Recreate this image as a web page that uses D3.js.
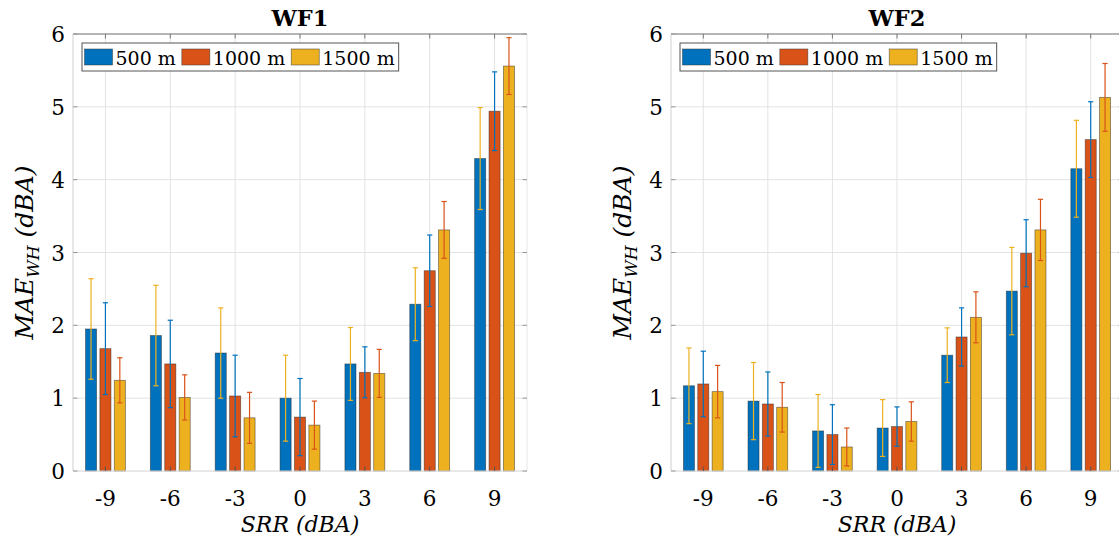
<!DOCTYPE html>
<html>
<head>
<meta charset="utf-8">
<script src="https://cdn.jsdelivr.net/npm/d3@7"></script>
<style>
  html, body { margin: 0; padding: 0; background: #fff; }
  svg { display: block; }
  text { font-family: "DejaVu Serif", serif; fill: #000; }
</style>
</head>
<body>
<svg id="chart" width="1119" height="539"></svg>
<script>
// ---------- data ----------
const categories = ["-9", "-6", "-3", "0", "3", "6", "9"];
const seriesNames = ["500 m", "1000 m", "1500 m"];
const yTicks = [0, 1, 2, 3, 4, 5, 6];

const wf1_500  = [1.95, 1.86, 1.62, 1.00, 1.47, 2.29, 4.29];
const wf1_1000 = [1.68, 1.47, 1.03, 0.74, 1.355, 2.75, 4.94];
const wf1_1500 = [1.245, 1.01, 0.73, 0.63, 1.34, 3.31, 5.56];
const wf1_500_err  = [0.69, 0.69, 0.62, 0.59, 0.50, 0.50, 0.70];
const wf1_1000_err = [0.63, 0.60, 0.56, 0.53, 0.35, 0.49, 0.54];
const wf1_1500_err = [0.31, 0.31, 0.35, 0.33, 0.33, 0.39, 0.39];

const wf2_500  = [1.17, 0.96, 0.55, 0.59, 1.59, 2.47, 4.15];
const wf2_1000 = [1.195, 0.92, 0.50, 0.61, 1.84, 2.99, 4.55];
const wf2_1500 = [1.09, 0.875, 0.33, 0.68, 2.11, 3.31, 5.13];
const wf2_500_err  = [0.52, 0.53, 0.50, 0.39, 0.375, 0.60, 0.665];
const wf2_1000_err = [0.45, 0.44, 0.41, 0.27, 0.40, 0.46, 0.52];
const wf2_1500_err = [0.36, 0.34, 0.26, 0.27, 0.35, 0.42, 0.465];

// ---------- styles ----------
const barColors = ["#0072BD", "#D95319", "#EDB120"];
const errColors = ["#EDB120", "#0072BD", "#D95319"];

const svg = d3.select("#chart");

function drawPanel(opts) {
  const { left, right, top, bottom, title, values, errors } = opts;
  const g = svg.append("g");

  const x0 = d3.scaleBand().domain(categories).range([left, right])
    .paddingInner(0.385).paddingOuter(0.1925);
  const x1 = d3.scaleBand().domain(seriesNames).range([0, x0.bandwidth()])
    .paddingInner(0.23).paddingOuter(0);
  const y = d3.scaleLinear().domain([0, 6]).range([bottom, top]);
  const cx = c => x0(c) + x0.bandwidth() / 2;

  const clipId = "clip" + Math.round(left);
  svg.append("clipPath").attr("id", clipId)
    .append("rect").attr("x", left).attr("y", top - 1).attr("width", right - left).attr("height", bottom - top + 2);

  // grid
  const grid = g.append("g");
  grid.selectAll("line.gx").data(categories).enter().append("line")
    .attr("x1", cx).attr("x2", cx).attr("y1", top).attr("y2", bottom)
    .attr("stroke", "#e3e3e3").attr("stroke-width", 1);
  grid.selectAll("line.gy").data(yTicks).enter().append("line")
    .attr("x1", left).attr("x2", right).attr("y1", d => y(d)).attr("y2", d => y(d))
    .attr("stroke", "#e3e3e3").attr("stroke-width", 1);

  // bars
  const bars = g.append("g").attr("clip-path", `url(#${clipId})`);
  seriesNames.forEach((s, si) => {
    bars.selectAll(null).data(categories).enter().append("rect")
      .attr("x", c => x0(c) + x1(s))
      .attr("width", x1.bandwidth())
      .attr("y", (c, i) => y(values[si][i]))
      .attr("height", (c, i) => y(0) - y(values[si][i]))
      .attr("fill", barColors[si])
      .attr("stroke", "#222").attr("stroke-opacity", 0.55).attr("stroke-width", 0.8);
  });

  // error bars
  const errG = g.append("g").attr("clip-path", `url(#${clipId})`);
  const capHalf = 2.6;
  seriesNames.forEach((s, si) => {
    const col = errColors[si];
    categories.forEach((c, i) => {
      const xc = x0(c) + x1(s) + x1.bandwidth() / 2;
      const v = values[si][i], e = errors[si][i];
      const yt = y(v + e), yb = y(v - e);
      errG.append("line").attr("x1", xc).attr("x2", xc).attr("y1", yt).attr("y2", yb)
        .attr("stroke", col).attr("stroke-width", 1.2);
      [yt, yb].forEach(yy => errG.append("line")
        .attr("x1", xc - capHalf).attr("x2", xc + capHalf).attr("y1", yy).attr("y2", yy)
        .attr("stroke", col).attr("stroke-width", 1.2));
    });
  });

  // axis box
  g.append("line").attr("x1", left).attr("x2", right).attr("y1", top).attr("y2", top)
    .attr("stroke", "#7a7a7a").attr("stroke-width", 1.2);
  g.append("line").attr("x1", left).attr("x2", left).attr("y1", top).attr("y2", bottom)
    .attr("stroke", "#d8d8d8").attr("stroke-width", 1.2);
  g.append("line").attr("x1", right).attr("x2", right).attr("y1", top).attr("y2", bottom)
    .attr("stroke", "#e6e6e6").attr("stroke-width", 1);
  g.append("line").attr("x1", left).attr("x2", right).attr("y1", bottom).attr("y2", bottom)
    .attr("stroke", "#e0e0e0").attr("stroke-width", 1);

  // ticks
  const tk = 4.5;
  categories.forEach(c => {
    g.append("line").attr("x1", cx(c)).attr("x2", cx(c)).attr("y1", top).attr("y2", top + tk)
      .attr("stroke", "#777").attr("stroke-width", 1);
    g.append("line").attr("x1", cx(c)).attr("x2", cx(c)).attr("y1", bottom).attr("y2", bottom - tk)
      .attr("stroke", "#555").attr("stroke-width", 1);
  });
  yTicks.forEach(t => {
    g.append("line").attr("x1", left).attr("x2", left + tk).attr("y1", y(t)).attr("y2", y(t))
      .attr("stroke", "#999").attr("stroke-width", 1);
    g.append("line").attr("x1", right).attr("x2", right - tk).attr("y1", y(t)).attr("y2", y(t))
      .attr("stroke", "#999").attr("stroke-width", 1);
  });

  // tick labels
  g.selectAll("text.xt").data(categories).enter().append("text")
    .attr("x", cx).attr("y", bottom + 35)
    .attr("text-anchor", "middle").attr("font-size", 21.5)
    .text(d => d);
  g.selectAll("text.yt").data(yTicks).enter().append("text")
    .attr("x", left - 8).attr("y", d => y(d) + 8)
    .attr("text-anchor", "end").attr("font-size", 21.5)
    .text(d => d);

  // title
  g.append("text").attr("x", (left + right) / 2).attr("y", 26)
    .attr("text-anchor", "middle").attr("font-size", 22.5).attr("font-weight", "bold")
    .text(title);

  // x label
  g.append("text").attr("x", (left + right) / 2).attr("y", 532)
    .attr("text-anchor", "middle").attr("font-size", 22).attr("font-style", "italic")
    .text("SRR (dBA)");

  // y label
  const yl = g.append("text")
    .attr("transform", `translate(${left - 40},${(top + bottom) / 2}) rotate(-90)`)
    .attr("text-anchor", "middle").attr("font-size", 25).attr("font-style", "italic");
  yl.append("tspan").text("MAE");
  yl.append("tspan").attr("font-size", 17).attr("dy", 6).text("WH");
  yl.append("tspan").attr("dy", -6).text(" (dBA)");

  // legend
  const lx = left + 9, ly = top + 9;
  const lg = g.append("g");
  const box = lg.append("rect").attr("x", lx).attr("y", ly).attr("height", 28)
    .attr("fill", "#fff").attr("stroke", "#555").attr("stroke-width", 1);
  let cur = lx + 2.5;
  seriesNames.forEach((s, si) => {
    lg.append("rect").attr("x", cur).attr("y", ly + 6).attr("width", 28).attr("height", 16)
      .attr("fill", barColors[si]).attr("stroke", "#333").attr("stroke-opacity", 0.6).attr("stroke-width", 0.8);
    const t = lg.append("text").attr("x", cur + 31).attr("y", ly + 22)
      .attr("font-size", 19).text(s);
    cur = cur + 31 + t.node().getComputedTextLength() + 6;
  });
  box.attr("width", cur - lx - 2);
}

drawPanel({
  left: 73, right: 527, top: 34, bottom: 471, title: "WF1",
  values: [wf1_500, wf1_1000, wf1_1500],
  errors: [wf1_500_err, wf1_1000_err, wf1_1500_err]
});
drawPanel({
  left: 671, right: 1123, top: 34, bottom: 471, title: "WF2",
  values: [wf2_500, wf2_1000, wf2_1500],
  errors: [wf2_500_err, wf2_1000_err, wf2_1500_err]
});
</script>
</body>
</html>
